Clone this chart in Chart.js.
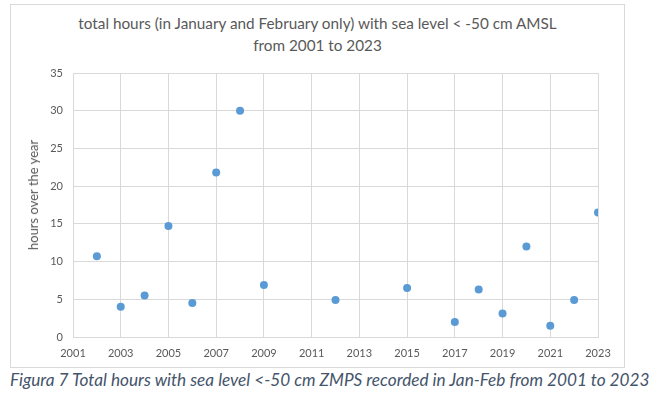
<!DOCTYPE html>
<html>
<head>
<meta charset="utf-8">
<script src="https://cdn.jsdelivr.net/npm/chart.js@4/dist/chart.umd.min.js"></script>
<style>
  html, body { margin: 0; padding: 0; background: #ffffff; }
  body { width: 661px; height: 399px; position: relative; overflow: hidden; font-family: Lato, "Open Sans", sans-serif; }
  #frame { position: absolute; left: 10px; top: 4px; width: 615px; height: 364px; border: 1px solid #d9d9d9; box-sizing: border-box; }
  #wrap { position: absolute; left: 0; top: 0; width: 661px; height: 368px; }
  #title { position: absolute; left: 10px; width: 615px; top: 12px; text-align: center; color: #595959; font-size: 15.3px; line-height: 22px; }
  #ytitle { position: absolute; left: 33px; top: 195px; transform: translate(-50%, -50%) rotate(-90deg); white-space: nowrap; color: #595959; font-size: 13px; }
  #caption { position: absolute; left: 10px; top: 369px; color: #44546a; font-style: italic; font-size: 17.2px; white-space: nowrap; }
</style>
</head>
<body>
<div id="frame"></div>
<div id="title">total hours (in January and February only) with sea level &lt; -50 cm AMSL<br>from 2001 to 2023</div>
<div id="wrap"><canvas id="c" width="661" height="368"></canvas></div>
<div id="ytitle">hours over the year</div>
<div id="caption">Figura 7 Total hours with sea level &lt;-50 cm ZMPS recorded in Jan-Feb from 2001 to 2023</div>
<script>
const years = [2002, 2003, 2004, 2005, 2006, 2007, 2008, 2009, 2012, 2015, 2017, 2018, 2019, 2020, 2021, 2022, 2023];
const hours = [10.7, 4.0, 5.5, 14.7, 4.5, 21.8, 30.0, 6.9, 4.9, 6.5, 2.0, 6.3, 3.1, 12.0, 1.5, 4.9, 16.5];
const xTicks = [2001, 2003, 2005, 2007, 2009, 2011, 2013, 2015, 2017, 2019, 2021, 2023];
const yTicks = [0, 5, 10, 15, 20, 25, 30, 35];

const points = years.map((y, i) => ({ x: y, y: hours[i] }));

new Chart(document.getElementById('c'), {
  type: 'scatter',
  data: {
    datasets: [{
      data: points,
      backgroundColor: '#5b9bd5',
      borderColor: '#5b9bd5',
      borderWidth: 0,
      pointRadius: 4,
      pointHoverRadius: 4
    }]
  },
  options: {
    responsive: false,
    animation: false,
    events: [],
    layout: { padding: { left: 0, right: 63, top: 73, bottom: 0 } },
    plugins: { legend: { display: false }, title: { display: false }, tooltip: { enabled: false } },
    scales: {
      x: {
        type: 'linear',
        min: xTicks[0],
        max: xTicks[xTicks.length - 1],
        afterBuildTicks: s => { s.ticks = xTicks.map(v => ({ value: v })); },
        afterFit: s => { s.height = 31; },
        grid: { color: '#d9d9d9', drawTicks: false, lineWidth: 1 },
        border: { color: '#d9d9d9' },
        ticks: { color: '#595959', font: { family: 'Lato', size: 11 }, padding: 10, callback: v => String(v), maxRotation: 0, autoSkip: false }
      },
      y: {
        type: 'linear',
        min: yTicks[0],
        max: yTicks[yTicks.length - 1],
        afterBuildTicks: s => { s.ticks = yTicks.map(v => ({ value: v })); },
        afterFit: s => { s.width = 73; },
        grid: { color: '#d9d9d9', drawTicks: false, lineWidth: 1 },
        border: { color: '#d9d9d9' },
        ticks: { color: '#595959', font: { family: 'Lato', size: 11 }, padding: 10, callback: v => String(v) }
      }
    }
  }
});
</script>
</body>
</html>
